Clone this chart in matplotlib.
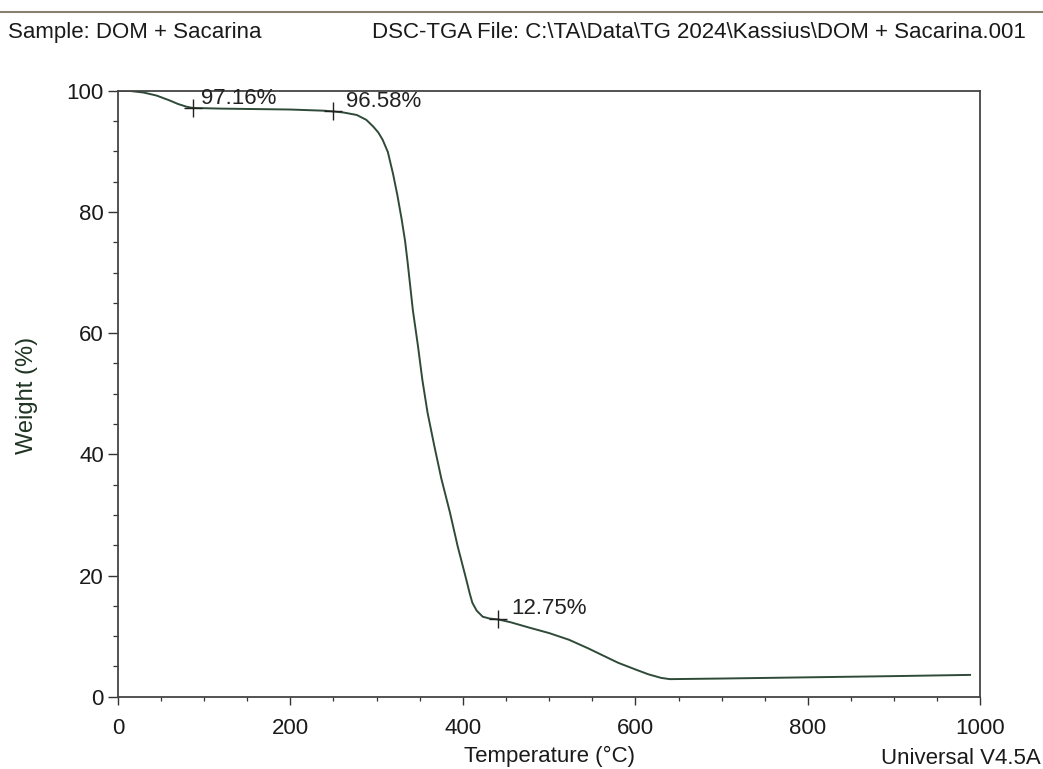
import matplotlib
matplotlib.use("Agg")
import matplotlib.pyplot as plt
from matplotlib.ticker import MultipleLocator

# Data
temperature = [0, 15, 30, 45, 60, 70, 80, 87, 120, 200, 240, 250, 262, 277, 288, 296,
               302, 307, 313, 319, 324, 329, 333, 336, 342, 348, 353, 359, 367, 375, 385,
               394, 404, 408, 411, 416, 423, 431, 441, 455, 477, 500, 523, 545, 561,
               580, 600, 615, 630, 640, 700, 800, 900, 988]
weight = [100, 99.95, 99.7, 99.2, 98.4, 97.8, 97.35, 97.16, 97.05, 96.9, 96.7, 96.58,
          96.4, 96.0, 95.2, 94.1, 93.1, 91.9, 89.9, 86.3, 82.8, 78.8, 75.2, 71.6, 63.8, 57.8,
          52.3, 46.9, 41.3, 36.0, 30.4, 24.8, 19.3, 17.0, 15.5, 14.2, 13.2, 12.9, 12.75,
          12.3, 11.4, 10.5, 9.4, 8.0, 6.9, 5.6, 4.5, 3.7, 3.1, 2.9, 3.0, 3.2, 3.4, 3.6]

marker_x = [87, 250, 441]
marker_y = [97.16, 96.58, 12.75]
marker_labels = ["97.16%", "96.58%", "12.75%"]
label_x = [96, 264, 456]
label_y = [98.8, 98.3, 14.5]

plt.rcParams['font.family'] = ['Liberation Sans', 'DejaVu Sans']

fig = plt.figure(figsize=(10.43, 7.69), dpi=100)
ax = fig.add_axes([0.113, 0.094, 0.827, 0.788])

line_color = '#2f4a38'
ax.plot(temperature, weight, color=line_color, lw=1.4)
ax.plot(marker_x, marker_y, linestyle='none', marker='+', markersize=13,
        markeredgewidth=1.0, color='#222222')

for lx, ly, lab in zip(label_x, label_y, marker_labels):
    ax.text(lx, ly, lab, fontsize=16, ha='left', va='center', color='#222222')

ax.set_xlim(0, 1000)
ax.set_ylim(0, 100)
ax.xaxis.set_major_locator(MultipleLocator(200))
ax.xaxis.set_minor_locator(MultipleLocator(50))
ax.yaxis.set_major_locator(MultipleLocator(20))
ax.yaxis.set_minor_locator(MultipleLocator(5))
ax.tick_params(which='both', direction='out', colors='#333333', labelcolor='#1a1a1a',
               labelsize=16, top=False, right=False)
ax.tick_params(axis='y', which='major', length=7, width=1.0, pad=3)
ax.tick_params(axis='y', which='minor', length=3.5, width=0.9)
ax.tick_params(axis='x', which='major', length=5.5, width=1.0, pad=10)
ax.tick_params(axis='x', which='minor', length=3, width=0.9)
for s in ax.spines.values():
    s.set_color('#444444')
    s.set_linewidth(1.3)

ax.set_xlabel('Temperature (°C)', fontsize=16, color='#1a1a1a', labelpad=5)
ax.set_ylabel('Weight (%)', fontsize=17, color='#1e3322')
ax.yaxis.set_label_coords(-0.093, 0.498)

fig.text(0.008, 0.958, 'Sample: DOM + Sacarina', fontsize=16, ha='left', va='center',
         color='#1a1a1a')
fig.text(0.357, 0.958, 'DSC-TGA File: C:\\TA\\Data\\TG 2024\\Kassius\\DOM + Sacarina.001',
         fontsize=16, ha='left', va='center', color='#1a1a1a')
fig.text(0.998, 0.006, 'Universal V4.5A', fontsize=16, ha='right', va='baseline',
         color='#1a1a1a')
fig.add_artist(plt.Line2D([0.0, 1.0], [0.985, 0.985], color='#8a8070', lw=1.5,
                          transform=fig.transFigure))

fig.savefig('out.png', dpi=100)
